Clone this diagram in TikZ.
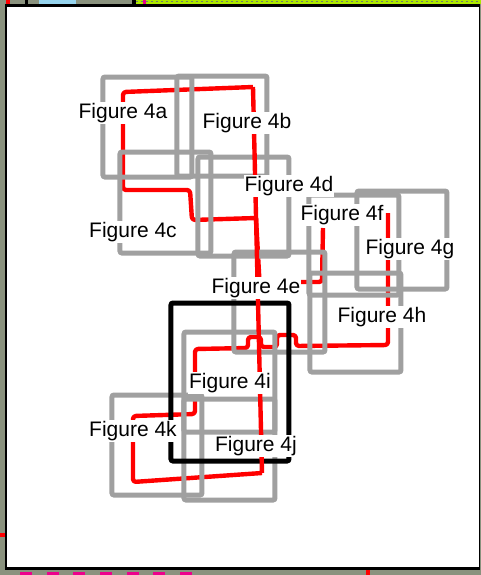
\documentclass[tikz,border=0pt]{standalone}
\usepackage{fontspec}
\setmainfont{Liberation Sans}
\usepackage{tikz}
\usetikzlibrary{positioning,calc}
\definecolor{boxgray}{RGB}{160,160,160}
\definecolor{bgmoss}{RGB}{138,146,126}
\definecolor{limegreen}{RGB}{172,232,0}
\definecolor{skyblue}{RGB}{150,212,238}
\tikzset{
  figbox/.style 2 args={draw=boxgray,line width=2.5pt,rounded corners=1pt,minimum width=#1*0.5pt,minimum height=#2*0.5pt,inner sep=0pt,outer sep=0pt},
  selbox/.style 2 args={draw=black,line width=2.5pt,rounded corners=1pt,minimum width=#1*0.5pt,minimum height=#2*0.5pt,inner sep=0pt,outer sep=0pt},
  lbl/.style={fill=white,inner sep=0.4pt,font=\fontsize{10.5}{12}\selectfont},
  wire/.style={draw=red,line width=2.2pt,line join=round,rounded corners=1.5pt},
}

\begin{document}
\begin{tikzpicture}[x=0.5pt,y=-0.5pt]
 \useasboundingbox (0,0) rectangle (481,575);
 % screen edges round the page
 \fill[bgmoss] (0,0) rectangle (481,575);
 \fill[red] (6,0) rectangle (10,4);
 \fill[black] (25,0) rectangle (28,4);
 \fill[skyblue] (39,0) rectangle (76,4);
 \fill[black] (132,0) rectangle (136,4);
 \fill[limegreen] (136,0) rectangle (481,4);
 \draw[black!55,line width=0.5pt,dash pattern=on 1pt off 1.5pt] (136,1) -- (481,1);
 \fill[magenta] (143,0) rectangle (146,4);
 \fill[red] (0,533) rectangle (4.7,537);
 \foreach \xa in {20,47,73,100,127,153,180}
   \fill[magenta] (\xa,572) rectangle ++(12,3);
 \fill[red] (366,570) rectangle (370,575);
 \fill[black] (4.7,4) rectangle (480.5,570);
 \fill[white] (7.3,6.7) rectangle (479.3,567.3);

 \coordinate (c0) at (253,87);
 \coordinate (c1) at (256,218);
 \coordinate (c2) at (259.5,282);
 \coordinate (c3) at (262,473);
 \coordinate (c4) at (388,213);
 \coordinate (c5) at (323,228);

 % red wires under the boxes
 \draw[wire] (c1) -- (192,220) -- (190,190) -- (123,190) -- (123,92) -- (c0);
 \draw[wire] (c1) -- (c2) -- (322,282) -- (c5);
 \draw[wire] (c3) -- (133,482) -- (133,416) -- (195,414) -- (195,349) -- (248,348)
   -- (248,337) -- (261,337) -- (261,347) -- (277,347) -- (277,335) -- (296,335) -- (296,346) -- (388,345) -- (c4);

 \node[figbox={89}{100}] (f4a) at (147.5,127) {};
 \node[figbox={90}{100}] (f4b) at (222,126) {};
 \node[figbox={91}{101}] (f4c) at (165.5,202.5) {};
 \node[figbox={91}{99}] (f4d) at (243.5,206.5) {};
 \node[figbox={91}{100}] (f4e) at (279.5,302) {};
 \node[figbox={90}{100}] (f4f) at (354,245) {};
 \node[figbox={90}{98}] (f4g) at (402,240) {};
 \node[figbox={91}{99}] (f4h) at (355.5,322.5) {};
 \node[figbox={91}{100}] (f4i) at (229.5,382) {};
 \node[figbox={91}{101}] (f4j) at (229.5,449.5) {};
 \node[figbox={90}{100}] (f4k) at (157,445) {};
 \node[selbox={118}{158}] (sel) at (230,382) {};

 \draw[wire] (c0) -- (c3);

 \node[lbl] (t4a) at (123,113) {Figure 4a};
 \node[lbl] (t4b) at (247,123) {Figure 4b};
 \node[lbl] (t4c) at (133,232) {Figure 4c};
 \node[lbl] (t4d) at (289,186) {Figure 4d};
 \node[lbl] (t4e) at (256,288) {Figure 4e};
 \node[lbl] (t4f) at (342,215) {Figure 4f};
 \node[lbl] (t4g) at (410,249) {Figure 4g};
 \node[lbl] (t4h) at (382,317) {Figure 4h};
 \node[lbl] (t4i) at (230,383) {Figure 4i};
 \node[lbl] (t4j) at (256,446) {Figure 4j};
 \node[lbl] (t4k) at (133,431) {Figure 4k};
\end{tikzpicture}
\end{document}
